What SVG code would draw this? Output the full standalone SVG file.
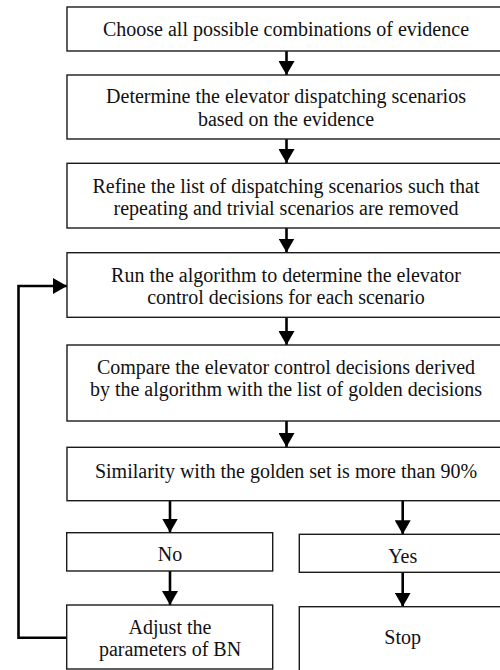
<svg xmlns="http://www.w3.org/2000/svg" width="500" height="670" viewBox="0 0 500 670">
<style>
.box{fill:#fff;stroke:#1a1a1a;stroke-width:1.4}
.t{font-family:"Liberation Serif","Times New Roman",serif;font-size:20px;fill:#111;text-anchor:middle}
.c{fill:none;stroke:#000;stroke-width:2.6}
</style>
<defs>
<marker id="ah" viewBox="0 0 14 16" refX="14" refY="8" markerWidth="14" markerHeight="16" markerUnits="userSpaceOnUse" orient="auto">
<path d="M0,0 L14,8 L0,16 z" fill="#000"/>
</marker>
</defs>
<rect width="500" height="670" fill="#fff"/>
<g id="connectors">
<line class="c" x1="286.5" y1="51" x2="286.5" y2="75" marker-end="url(#ah)"/>
<line class="c" x1="286.5" y1="139" x2="286.5" y2="163" marker-end="url(#ah)"/>
<line class="c" x1="286.5" y1="228" x2="286.5" y2="252.5" marker-end="url(#ah)"/>
<line class="c" x1="286.5" y1="317" x2="286.5" y2="345" marker-end="url(#ah)"/>
<line class="c" x1="286.5" y1="421" x2="286.5" y2="447" marker-end="url(#ah)"/>
<line class="c" x1="170" y1="501" x2="170" y2="532.5" marker-end="url(#ah)"/>
<line class="c" x1="402.7" y1="501" x2="402.7" y2="534.3" marker-end="url(#ah)"/>
<line class="c" x1="170" y1="571" x2="170" y2="605" marker-end="url(#ah)"/>
<line class="c" x1="402.7" y1="572.3" x2="402.7" y2="606.7" marker-end="url(#ah)"/>
<path class="c" d="M67,637.7 H18.5 V286 H67" marker-end="url(#ah)"/>
</g>
<g id="n1"><rect class="box" x="67" y="7" width="440" height="44"/>
<text class="t" x="286" y="36">Choose all possible combinations of evidence</text></g>
<g id="n2"><rect class="box" x="67" y="75" width="440" height="64"/>
<text class="t" x="286" y="102.5">Determine the elevator dispatching scenarios</text>
<text class="t" x="286" y="125.5">based on the evidence</text></g>
<g id="n3"><rect class="box" x="67" y="163.3" width="440" height="64.7"/>
<text class="t" x="286" y="192.5">Refine the list of dispatching scenarios such that</text>
<text class="t" x="286" y="214.5">repeating and trivial scenarios are removed</text></g>
<g id="n4"><rect class="box" x="67" y="252.7" width="440" height="64.6"/>
<text class="t" x="286" y="281.5">Run the algorithm to determine the elevator</text>
<text class="t" x="286" y="303.5">control decisions for each scenario</text></g>
<g id="n5"><rect class="box" x="67" y="345" width="440" height="76"/>
<text class="t" x="286" y="373.5">Compare the elevator control decisions derived</text>
<text class="t" x="286" y="396">by the algorithm with the list of golden decisions</text></g>
<g id="n6"><rect class="box" x="67" y="447.3" width="440" height="53.4"/>
<text class="t" x="286" y="477.5">Similarity with the golden set is more than 90%</text></g>
<g id="n7"><rect class="box" x="66.7" y="532.7" width="206" height="38.3"/>
<text class="t" x="170" y="560.5">No</text></g>
<g id="n8"><rect class="box" x="299.3" y="534.3" width="210" height="38"/>
<text class="t" x="402.7" y="562.5">Yes</text></g>
<g id="n9"><rect class="box" x="66.7" y="605" width="206" height="64"/>
<text class="t" x="170" y="633.5">Adjust the</text>
<text class="t" x="170" y="656">parameters of BN</text></g>
<g id="n10"><rect class="box" x="299.3" y="606.7" width="210" height="70"/>
<text class="t" x="402.7" y="644">Stop</text></g>
</svg>
